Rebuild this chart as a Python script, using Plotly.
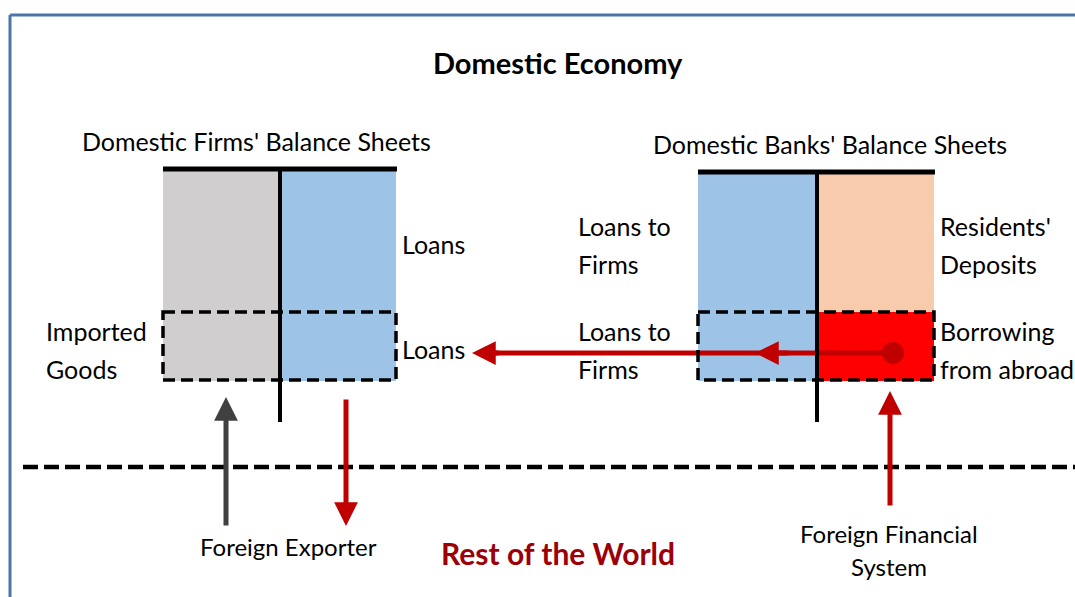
import plotly.graph_objects as go

# ---- text content ----
title_text = "Domestic Economy"
sheet_titles = ["Domestic Firms' Balance Sheets", "Domestic Banks' Balance Sheets"]
firm_labels = ["Loans", "Loans", "Imported<br>Goods"]
bank_labels = ["Loans to<br>Firms", "Loans to<br>Firms", "Residents'<br>Deposits", "Borrowing<br>from abroad"]
world_labels = ["Foreign Exporter", "Foreign Financial<br>System"]
world_title = "Rest of the World"

# ---- colours ----
GRAY = "#d0cece"
BLUE = "#9dc3e6"
PEACH = "#f8cbad"
RED = "#ff0000"
DARKRED = "#c00000"
WORLDRED = "#9c0006"
FRAME = "#4a77a8"
FONT = "Lato"

W, H = 1075, 597
fig = go.Figure()
shapes = []
ann = []

def rect(x0, y0, x1, y1, fill):
    shapes.append(dict(type="rect", xref="x", yref="y", x0=x0, y0=y0, x1=x1, y1=y1,
                       fillcolor=fill, line=dict(width=0), layer="below"))

def line(x0, y0, x1, y1, color="black", width=4, dash="solid"):
    shapes.append(dict(type="line", xref="x", yref="y", x0=x0, y0=y0, x1=x1, y1=y1,
                       line=dict(color=color, width=width, dash=dash)))

def text(x, y, s, size=25, anchor="left", color="black", bold=False, gap=38):
    parts = s.split("<br>")
    n = len(parts)
    for i, p in enumerate(parts):
        yy = y + (i - (n - 1) / 2) * gap
        if bold:
            p = "<b>" + p + "</b>"
        ann.append(dict(x=x, y=yy, xref="x", yref="y", text=p, showarrow=False,
                        xanchor=anchor, yanchor="middle", align=anchor,
                        font=dict(family=FONT, size=size, color=color)))

def arrow(x0, y0, x1, y1, color, width=5):
    ann.append(dict(x=x1, y=y1, ax=x0, ay=y0, xref="x", yref="y", axref="x", ayref="y",
                    text="", showarrow=True, arrowhead=2, arrowsize=0.95,
                    arrowwidth=width, arrowcolor=color, standoff=0))

# frame
line(10, 15, W, 15, FRAME, 3)
line(10, 15, 10, H, FRAME, 3)

# firms balance sheet
rect(163, 171, 280, 381, GRAY)
rect(280, 171, 396, 381, BLUE)
line(163, 169, 397, 169, width=5)
line(280, 169, 280, 422, width=4)
shapes.append(dict(type="rect", xref="x", yref="y", x0=163, y0=312, x1=396, y1=380,
                   line=dict(color="black", width=3.5, dash="12px,6px")))

# banks balance sheet
rect(698, 174, 817, 381, BLUE)
rect(817, 174, 934, 312, PEACH)
rect(817, 312, 934, 381, RED)
# loan flow shaft (drawn under the divider)
line(893, 353, 480, 353, DARKRED, 5)
line(698, 172, 935, 172, width=5)
line(817, 172, 817, 422, width=4)
shapes.append(dict(type="rect", xref="x", yref="y", x0=698, y0=312, x1=934, y1=380,
                   line=dict(color="black", width=3.5, dash="12px,6px")))

# rest-of-world boundary
line(23, 467, W, 467, width=4.5, dash="15px,6px")

# arrows
arrow(500, 353, 472, 353, DARKRED)
arrow(790, 353, 755, 353, DARKRED)
shapes.append(dict(type="circle", xref="x", yref="y", x0=882, y0=342, x1=904, y1=364,
                   fillcolor=DARKRED, line=dict(width=0)))
arrow(226, 527, 226, 397, "#404040")
arrow(346, 398, 346, 526, DARKRED)
arrow(890, 507, 890, 391, DARKRED)

# texts
text(558, 62, title_text, size=29, anchor="center", bold=True)
text(256, 141, sheet_titles[0], anchor="center")
text(830, 144, sheet_titles[1], anchor="center")
text(400, 244, firm_labels[0])
text(400, 349, firm_labels[1])
text(44, 350, firm_labels[2])
text(576, 245, bank_labels[0])
text(576, 350, bank_labels[1])
text(938, 245, bank_labels[2])
text(938, 350, bank_labels[3])
text(288, 546, world_labels[0], size=24, anchor="center")
text(889, 550, world_labels[1], size=24, anchor="center", gap=33)
text(558, 553, world_title, size=30, anchor="center", color=WORLDRED, bold=True)

fig.update_layout(
    width=W, height=H, margin=dict(l=0, r=0, t=0, b=0),
    paper_bgcolor="white", plot_bgcolor="white",
    xaxis=dict(range=[0, W], visible=False, fixedrange=True),
    yaxis=dict(range=[H, 0], visible=False, fixedrange=True),
    shapes=shapes, annotations=ann, showlegend=False,
)
fig.write_html("out.html", config={"displayModeBar": False},
               post_script="document.body.style.margin='0';document.body.style.overflow='hidden';")
